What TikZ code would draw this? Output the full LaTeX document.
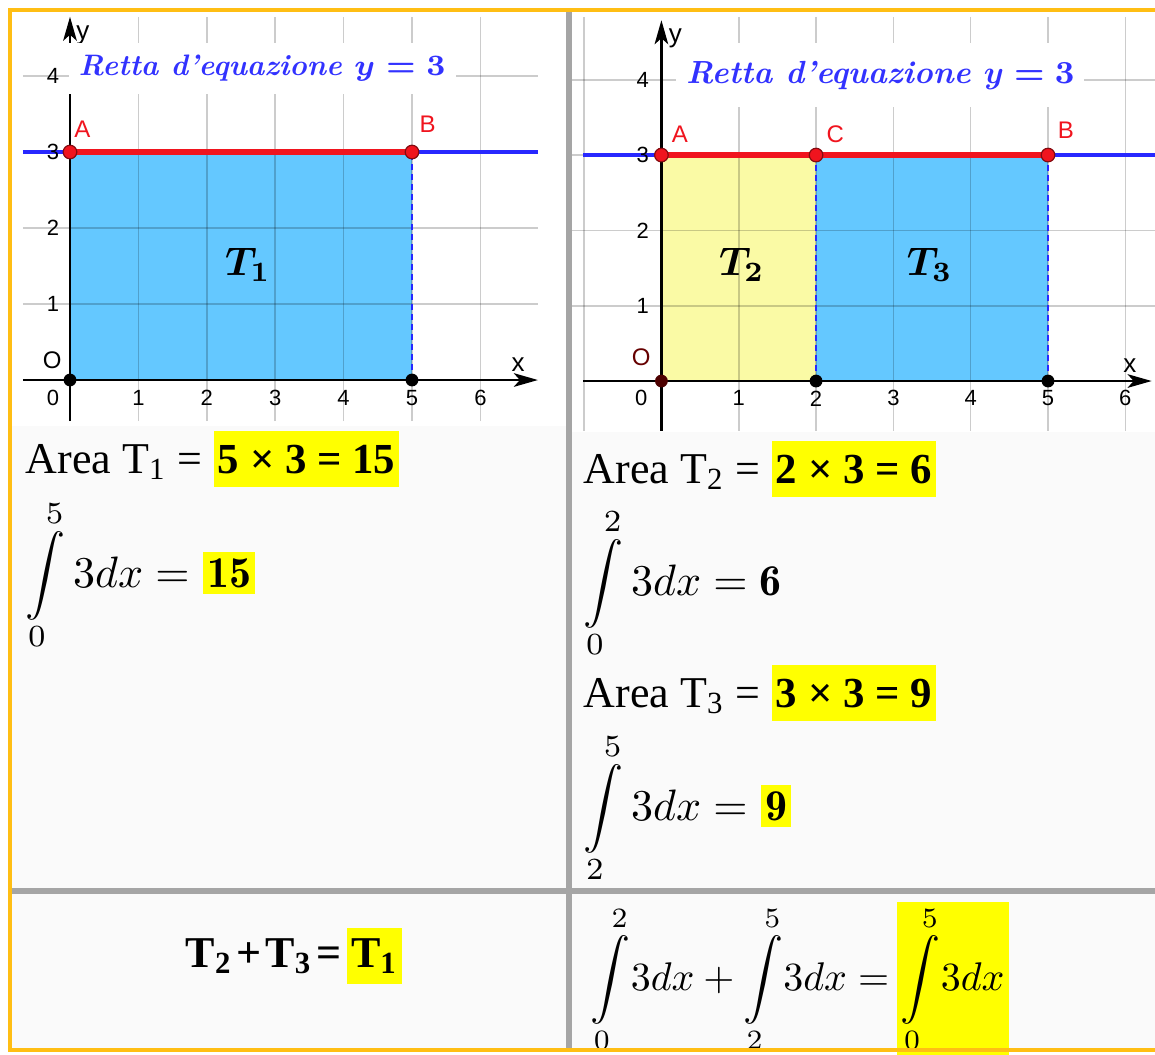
\RequirePackage{fix-cm}
\documentclass[tikz,border=0pt]{standalone}
\usepackage{fontspec}
\newfontfamily\timesfont{Liberation Serif}
\newfontfamily\geofont{Liberation Sans}
\usetikzlibrary{arrows.meta,positioning}

\begin{document}
\begin{tikzpicture}[x=0.25pt, y=-0.25pt, every node/.style={inner sep=0pt},
  gridln/.style={black, opacity=0.2, line width=0.4pt},
  axisln/.style={line width=0.6pt, -{Stealth[length=6pt, width=3.4pt, inset=1.5pt]}},
  dashln/.style={lineblue, line width=0.6pt, dash pattern=on 1.5pt off 1pt},
  ticklbl/.style={font=\geofont\fontsize{5.5}{6}\selectfont},
  ptlbl/.style={font=\geofont\fontsize{6}{7}\selectfont, text=ptred},
  redpt/.style={circle, fill=ptred, draw=ptred!55!black, line width=0.3pt, minimum size=3.4pt},
  blackpt/.style={circle, fill=black, minimum size=3.2pt},
  titlebox/.style={fill=white, inner xsep=2.5pt, inner ysep=3pt, text=titleblue,
    font=\fontsize{8}{10}\selectfont\bfseries\itshape\boldmath},
  tlbl/.style={font=\fontsize{10}{12}\selectfont\boldmath},
  area/.style={anchor=base west, font=\timesfont\fontsize{11}{13}\selectfont},
  prod/.style={hl, font=\timesfont\bfseries\fontsize{10.7}{13}\selectfont},
  integ/.style={anchor=base west, font=\fontsize{11}{13}\selectfont},
  hl/.style={anchor=base west, fill=hlyellow, inner xsep=1pt, inner ysep=3.5pt}]
  \definecolor{frameorange}{RGB}{255,190,20}
  \definecolor{framegray}{RGB}{165,165,165}
  \definecolor{panelgray}{RGB}{250,250,250}
  \definecolor{areablue}{RGB}{100,200,255}
  \definecolor{areayellow}{RGB}{250,250,165}
  \definecolor{hlyellow}{RGB}{255,255,0}
  \definecolor{ptred}{RGB}{240,20,30}
  \definecolor{lineblue}{RGB}{40,40,255}
  \definecolor{titleblue}{RGB}{50,50,255}
  \useasboundingbox (0,0) rectangle (1155,1054);
  % frame
  \fill[white] (0,0) rectangle (1155,1054);
  \fill[panelgray] (10,10) rectangle (1155,1050);
  \fill[white] (12,12) rectangle (567,426);
  \fill[white] (571,12) rectangle (1155,432);
  % left graph
  \begin{scope}[shift={(70,380)}, x=17.1pt, y=19pt]
    \coordinate (O1) at (0,0);
    \coordinate (P1) at (5,0);
    \coordinate (A1) at (0,3);
    \coordinate (B1) at (5,3);
    \fill[areablue] (O1) rectangle (B1);
    \foreach \i in {1,...,6} \draw[gridln] (\i,-0.54) -- (\i,4.78);
    \foreach \j in {1,...,4} \draw[gridln] (-0.69,\j) -- (6.84,\j);
    \draw[lineblue, line width=0.8pt] (-0.69,3) -- (6.84,3);
    \draw[dashln] (P1) -- (B1);
    \draw[axisln] (-0.69,0) -- (6.84,0);
    \draw[axisln] (0,-0.54) -- (0,4.78);
    \draw[ptred, line width=1.3pt] (A1) -- (B1);
    \node[redpt] (ptA1) at (A1) {};
    \node[redpt] (ptB1) at (B1) {};
    \node[blackpt] (ptO1) at (O1) {};
    \node[blackpt] (ptP1) at (P1) {};
    \foreach \i in {1,...,6} \node[ticklbl] (lx\i) at (\i,-0.24) {\i};
    \foreach \j in {1,...,4} \node[ticklbl] (ly\j) at (-0.25,\j) {\j};
    \node[ticklbl] (lzero1) at (-0.25,-0.24) {0};
    \node[ticklbl, font=\geofont\fontsize{6.5}{7}\selectfont] (xname1) at (6.55,0.2) {x};
    \node[ticklbl, font=\geofont\fontsize{6.5}{7}\selectfont] (yname1) at (0.19,4.54) {y};
    \node[ptlbl] (lblA1) at (0.18,3.3) {A};
    \node[ptlbl] (lblB1) at (5.23,3.36) {B};
    \node[ptlbl, text=black] (lblO1) at (-0.26,0.26) {O};
    \node[titlebox, font=\fontsize{7.4}{9}\selectfont\bfseries\itshape\boldmath] (title1) at (2.81,4.1) {Retta d’equazione $y = 3$};
    \node[tlbl] (T1) at (2.6,1.51) {$T_1$};
  \end{scope}
  % right graph
  \begin{scope}[shift={(661.4,381)}, x=19.33pt, y=18.83pt]
    \coordinate (O2) at (0,0);
    \coordinate (Q2) at (2,0);
    \coordinate (P2) at (5,0);
    \coordinate (A2) at (0,3);
    \coordinate (C2) at (2,3);
    \coordinate (B2) at (5,3);
    \fill[areayellow] (O2) rectangle (C2);
    \fill[areablue] (Q2) rectangle (B2);
    \foreach \i in {-1,1,2,...,6} \draw[gridln] (\i,-0.66) -- (\i,4.83);
    \foreach \j in {1,...,4} \draw[gridln] (-1.16,\j) -- (6.39,\j);
    \draw[lineblue, line width=0.8pt] (-1.01,3) -- (6.39,3);
    \draw[dashln] (Q2) -- (C2);
    \draw[dashln] (P2) -- (B2);
    \draw[axisln] (-1.01,0) -- (6.34,0);
    \draw[axisln] (0,-0.66) -- (0,4.79);
    \draw[ptred, line width=1.3pt] (A2) -- (B2);
    \node[redpt] (ptA2) at (A2) {};
    \node[redpt] (ptC2) at (C2) {};
    \node[redpt] (ptB2) at (B2) {};
    \node[blackpt, fill=black!70!red] (ptO2) at (O2) {};
    \node[blackpt] (ptQ2) at (Q2) {};
    \node[blackpt] (ptP2) at (P2) {};
    \foreach \i in {1,...,6} \node[ticklbl] (rx\i) at (\i,-0.23) {\i};
    \foreach \j in {1,...,4} \node[ticklbl] (ry\j) at (-0.24,\j) {\j};
    \node[ticklbl] (lzero2) at (-0.26,-0.23) {0};
    \node[ticklbl, font=\geofont\fontsize{6.5}{7}\selectfont] (xname2) at (6.06,0.21) {x};
    \node[ticklbl, font=\geofont\fontsize{6.5}{7}\selectfont] (yname2) at (0.18,4.55) {y};
    \node[ptlbl] (lblA2) at (0.24,3.27) {A};
    \node[ptlbl] (lblC2) at (2.25,3.27) {C};
    \node[ptlbl] (lblB2) at (5.23,3.33) {B};
    \node[ptlbl, text=black!60!red] (lblO2) at (-0.26,0.32) {O};
    \node[titlebox, inner ysep=4.5pt] (title2) at (2.83,4.06) {Retta d’equazione $y = 3$};
    \node[tlbl] (T2) at (1.04,1.54) {$T_2$};
    \node[tlbl] (T3) at (3.47,1.54) {$T_3$};
  \end{scope}
  % left texts
  \node[area] (areaone) at (25,473) {Area T\textsubscript{1} =};
  \node[prod] (prodone) at ([xshift=2.5pt]areaone.base east) {5 × 3 = 15};
  \node[integ] (intone) at (25,587) {$\displaystyle\int\limits_0^5 3dx =$};
  \node[hl, inner ysep=1.5pt, font=\fontsize{11}{13}\selectfont] (valone) at ([xshift=3pt]intone.base east) {$\mathbf{15}$};
  % right texts
  \node[area] (areatwo) at (583,483) {Area T\textsubscript{2} =};
  \node[prod] (prodtwo) at ([xshift=2.5pt]areatwo.base east) {2 × 3 = 6};
  \node[integ] (inttwo) at (583,595) {$\displaystyle\int\limits_0^2 3dx = \mathbf{6}$};
  \node[area] (areathree) at (583,707) {Area T\textsubscript{3} =};
  \node[prod] (prodthree) at ([xshift=2.5pt]areathree.base east) {3 × 3 = 9};
  \node[integ] (intthree) at (583,820) {$\displaystyle\int\limits_2^5 3dx =$};
  \node[hl, inner ysep=1.5pt, font=\fontsize{11}{13}\selectfont] (valthree) at ([xshift=3pt]intthree.base east) {$\mathbf{9}$};
  % bottom row
  \node[anchor=base west, font=\timesfont\bfseries\fontsize{11}{13}\selectfont] (sumT) at (185,967) {T\textsubscript{2}\kern1pt+\kern1ptT\textsubscript{3}\kern1pt=};
  \node[hl, inner ysep=2.5pt, font=\timesfont\bfseries\fontsize{11}{13}\selectfont] (sumTone) at ([xshift=1pt]sumT.base east) {T\textsubscript{1}};
  \node[integ, font=\fontsize{10}{12}\selectfont] (sumleft) at (590,990) {$\displaystyle\int\limits_0^2\! 3dx + \int\limits_2^5\! 3dx =$};
  \node[hl, inner ysep=1pt, font=\fontsize{10}{12}\selectfont] (sumright) at ([xshift=1.5pt]sumleft.base east) {$\displaystyle\int\limits_0^5\! 3dx$};
  % dividers
  \draw[framegray, line width=1.3pt] (569,12) -- (569,1048);
  \draw[framegray, line width=1.3pt] (12,891) -- (1155,891);
  \draw[frameorange, line width=1pt] (1155,10) -- (10,10) -- (10,1050) -- (1155,1050);
\end{tikzpicture}
\end{document}
